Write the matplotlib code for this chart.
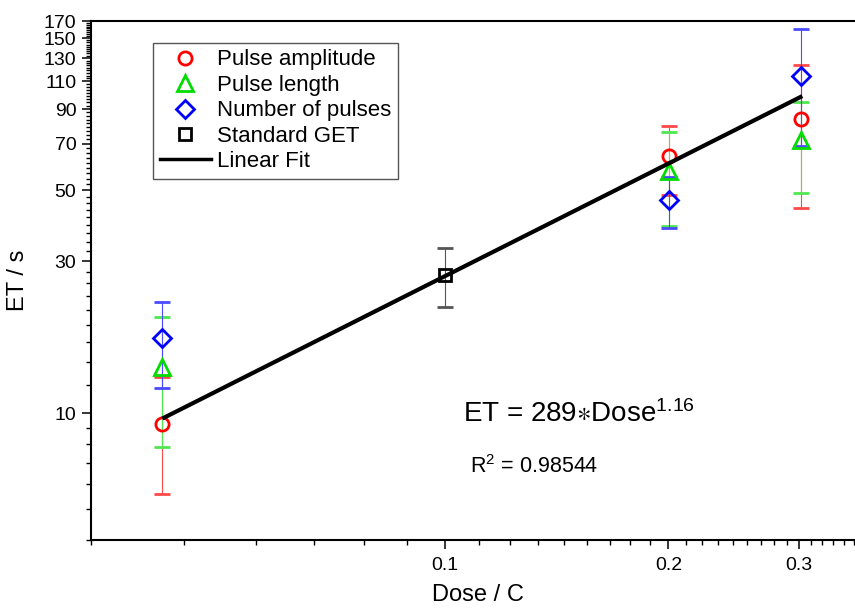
import matplotlib
matplotlib.use('Agg')
import matplotlib.pyplot as plt
from matplotlib.lines import Line2D
from matplotlib.ticker import FixedLocator, FixedFormatter, NullFormatter

plt.rcParams['font.family'] = ['Liberation Sans', 'DejaVu Sans']
plt.rcParams['mathtext.default'] = 'regular'

# ---- data ----
dose = [0.0416, 0.2006, 0.302]
amp_et = [9.28, 64.0, 84.0]
amp_err = [3.7, 15.8, 40.0]
len_et = [13.95, 57.4, 72.0]
len_err = [6.1, 18.8, 23.0]
num_et = [17.2, 46.5, 114.4]
num_err = [5.2, 8.4, 45.6]
get_dose = [0.1]
get_et = [27.2]
get_err = [5.7]
fit_dose = [0.0416, 0.303]
fit_et = [9.62, 98.8]

xticks = [0.1, 0.2, 0.3]
xticklabels = ['0.1', '0.2', '0.3']
yticks = [10, 30, 50, 70, 90, 110, 130, 150, 170]
yticklabels = ['10', '30', '50', '70', '90', '110', '130', '150', '170']
labels = ['Pulse amplitude', 'Pulse length', 'Number of pulses', 'Standard GET', 'Linear Fit']

# ---- figure ----
fig = plt.figure(figsize=(8.55, 6.12), dpi=100)
ax = fig.add_axes([91/855, 72/612, (866.6-91)/855, 519/612])
ax.set_xscale('log')
ax.set_yscale('log')

ebkw = dict(ls='none', capsize=6, elinewidth=0.8, capthick=0.7, mfc='none', mew=2.0)
ax.errorbar(dose, amp_et, yerr=amp_err, marker='o', ms=9.5, color='#ff0000',
            ecolor='#ff4a4a', zorder=3, **ebkw)
ax.errorbar(dose, len_et, yerr=len_err, marker='^', ms=11.5, color='#00dd00',
            ecolor='#50e650', zorder=3, **ebkw)
ax.errorbar(dose, num_et, yerr=num_err, marker='D', ms=9.0, color='#0000ff',
            ecolor='#4a4aff', zorder=3, **ebkw)
ax.errorbar(get_dose, get_et, yerr=get_err, marker='s', ms=9.0, color='black',
            ecolor='#555555', zorder=3, **ebkw)
ax.plot(fit_dose, fit_et, color='black', lw=3, zorder=5, solid_capstyle='butt')

ax.set_xlim(1/30, 0.37)
ax.set_ylim(4, 170)

# ticks
ax.xaxis.set_major_locator(FixedLocator(xticks))
ax.xaxis.set_major_formatter(FixedFormatter(xticklabels))
xminor = [k/90 for k in range(3, 34) if k not in (9, 18, 27)]
ax.xaxis.set_minor_locator(FixedLocator(xminor))
ax.xaxis.set_minor_formatter(NullFormatter())

ax.yaxis.set_major_locator(FixedLocator(yticks))
ax.yaxis.set_major_formatter(FixedFormatter(yticklabels))
yminor = [4, 5, 6, 7, 8, 9]
for i in range(len(yticks) - 1):
    for k in range(1, 9):
        yminor.append(yticks[i] + k * 20 / 9)
ax.yaxis.set_minor_locator(FixedLocator(yminor))
ax.yaxis.set_minor_formatter(NullFormatter())

ax.tick_params(which='major', direction='out', length=6.5, width=1.1, labelsize=14, pad=4)
ax.tick_params(which='minor', direction='out', length=3.3, width=1.0)
ax.tick_params(axis='x', which='major', pad=6)
ax.tick_params(top=False, right=False, which='both')

for s in ['left', 'bottom', 'top']:
    ax.spines[s].set_linewidth(1.5)
ax.spines['right'].set_visible(False)

ax.set_xlabel('Dose / C', fontsize=17)
ax.xaxis.set_label_coords(0.499, -0.084)
ax.set_ylabel('ET / s', fontsize=17, va='center')
ax.yaxis.set_label_coords(-0.094, 0.5)

# legend
handles = [
    Line2D([], [], ls='none', marker='o', ms=9.5, mfc='none', mec='#ff0000', mew=2.0),
    Line2D([], [], ls='none', marker='^', ms=11.5, mfc='none', mec='#00dd00', mew=2.0),
    Line2D([], [], ls='none', marker='D', ms=9.0, mfc='none', mec='#0000ff', mew=2.0),
    Line2D([], [], ls='none', marker='s', ms=8.0, mfc='none', mec='black', mew=2.0),
    Line2D([], [], color='black', lw=2.5),
]
leg = ax.legend(handles, labels, loc='upper left', bbox_to_anchor=(0.0799, 0.958),
                frameon=True, fancybox=False, framealpha=1, edgecolor='#555555',
                fontsize=16, handlelength=2.3, handletextpad=0.3, labelspacing=0.2,
                borderpad=0.3, borderaxespad=0)
leg.get_frame().set_linewidth(1.0)

ax.text(0.48, 0.228, 'ET = 289$\\ast$Dose$^{1.16}$', transform=ax.transAxes,
        fontsize=20, va='baseline', ha='left')
ax.text(0.4887, 0.1297, 'R$^{2}$ = 0.98544', transform=ax.transAxes,
        fontsize=15.5, va='baseline', ha='left')

fig.savefig('out.png', dpi=100)
